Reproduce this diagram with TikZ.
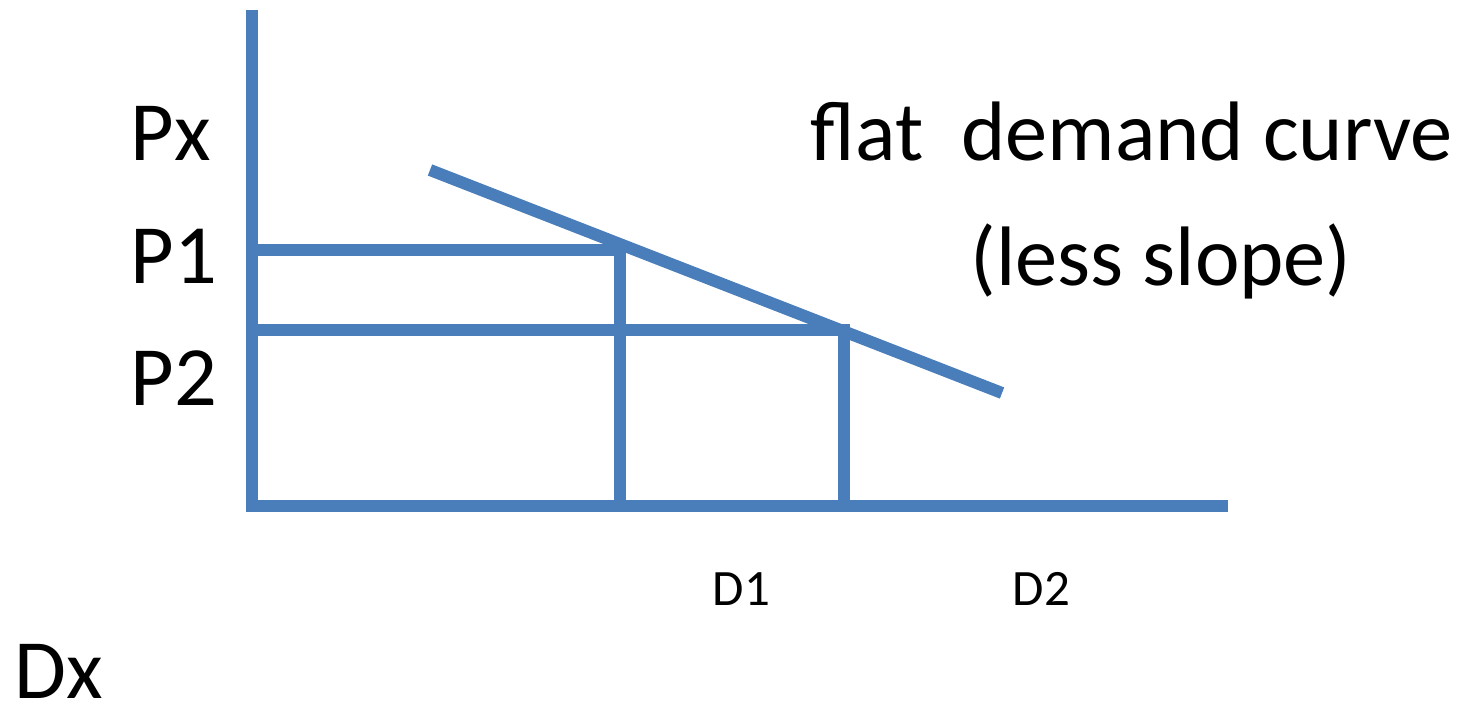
\documentclass[tikz,border=0pt]{standalone}
\usepackage{fontspec}
\setmainfont{Carlito}
\usepackage{tikz}
\usetikzlibrary{calc}
\definecolor{ejeazul}{RGB}{74,126,187}

\begin{document}
\begin{tikzpicture}[
  x=0.01cm, y=-0.01cm,
  linea/.style={draw=ejeazul, line width=0.12cm},
  etq/.style={anchor=base west, inner sep=0pt, font=\fontsize{24}{28}\selectfont},
  etqq/.style={anchor=base west, inner sep=0pt, font=\fontsize{14.5}{17}\selectfont}]

  \useasboundingbox (0,0) rectangle (1474,709);

  % ejes
  \coordinate (top) at (252,10);
  \coordinate (O)   at (252,506);
  \coordinate (xe)  at (1228,506);
  \draw[linea] (top) -- (O) -- (xe);

  % curva de demanda
  \coordinate (d0) at (430,170);
  \coordinate (d1) at (1002,393);
  \draw[linea] (d0) -- (d1);

  % precios y cantidades
  \coordinate (q1) at (620,250);
  \coordinate (q2) at (844,330);
  \draw[linea] (O |- q1) -- (q1) -- (q1 |- O);
  \draw[linea] (O |- q2) -- (q2) -- (q2 |- O);

  % textos
  \node[etq] (px) at (130,160) {Px};
  \node[etq] (p1) at (130,283) {P1};
  \node[etq] (p2) at (130,405) {P2};
  \node[etq] (dx) at (14,698) {Dx};
  \node[etqq] (d1l) at (712,605) {D1};
  \node[etqq] (d2l) at (1012,605) {D2};
  \node[etq] (t1) at (810,160) {flat\ \ demand curve};
  \node[etq] (t2) at (970,285) {(less slope)};
\end{tikzpicture}
\end{document}
